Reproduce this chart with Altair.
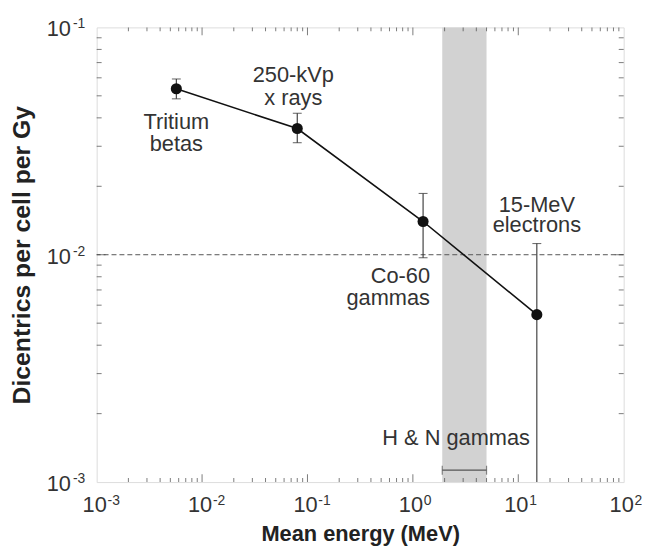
import altair as alt
import pandas as pd

# ---------------- data ----------------
sources = ["Tritium betas", "250-kVp x rays", "Co-60 gammas", "15-MeV electrons"]
label_lines = [["Tritium", "betas"], ["250-kVp", "x rays"], ["Co-60", "gammas"], ["15-MeV", "electrons"]]
energy_mev = [0.0057, 0.08, 1.25, 15.0]
dicentrics = [0.0537, 0.0359, 0.0140, 0.00545]
err_upper = [0.0593, 0.0419, 0.0186, 0.0112]
err_lower = [0.0485, 0.0311, 0.0097, 0.0005]
hn_band = [1.9, 5.0]
hn_label = "H & N gammas"
ref_level = 0.01
x_exponents = [-3, -2, -1, 0, 1, 2]
y_exponents = [-3, -2, -1]
minor_mantissas = [2, 3, 4, 5, 6, 7, 8, 9]

X_DOMAIN = [1e-3, 1e2]
Y_DOMAIN = [1e-3, 1e-1]

FONT = "Liberation Sans"
INK = "#222222"
TXT = "#333333"

xs = alt.Scale(type="log", domain=X_DOMAIN, nice=False)
ys = alt.Scale(type="log", domain=Y_DOMAIN, nice=False)

x_axis = alt.Axis(title="Mean energy (MeV)", labels=False, ticks=False, domain=False, grid=False,
                  titleFont=FONT, titleFontSize=22, titleFontWeight="bold", titleColor=INK,
                  titlePadding=42)
y_axis = alt.Axis(title="Dicentrics per cell per Gy", labels=False, ticks=False, domain=False, grid=False,
                  titleFont=FONT, titleFontSize=25, titleFontWeight="bold", titleColor=INK,
                  titlePadding=63)


def X(field):
    return alt.X(field, type="quantitative", scale=xs, axis=x_axis)


def Y(field):
    return alt.Y(field, type="quantitative", scale=ys, axis=y_axis)


pts = pd.DataFrame({"source": sources, "e": energy_mev, "d": dicentrics,
                    "hi": err_upper, "lo": err_lower})

# shaded H & N band
band = alt.Chart(pd.DataFrame({"lo": [hn_band[0]], "hi": [hn_band[1]],
                               "ylo": [Y_DOMAIN[0]], "yhi": [Y_DOMAIN[1]]})).mark_rect(
    color="#d2d2d2").encode(x=X("lo"), x2="hi", y=Y("ylo"), y2="yhi")

# dashed reference line at 1e-2
ref = alt.Chart(pd.DataFrame({"r": [ref_level]})).mark_rule(
    color="#555555", strokeDash=[5, 3], strokeWidth=1).encode(y=Y("r"))

# bracket under "H & N gammas"
bracket_df = pd.DataFrame({"lo": [hn_band[0]], "hi": [hn_band[1]], "b": [Y_DOMAIN[0]]})
bracket = alt.Chart(bracket_df).mark_rule(color="#555555", strokeWidth=1.2, yOffset=-12).encode(
    x=X("lo"), x2="hi", y=Y("b"))
bracket_ends = alt.Chart(pd.DataFrame({"v": hn_band, "b": [Y_DOMAIN[0]] * 2})).mark_tick(
    orient="vertical", size=9, thickness=1.2, color="#555555", yOffset=-12).encode(x=X("v"), y=Y("b"))


# inward axis ticks on all four sides
def x_ticks(vals, length, at, sign):
    df = pd.DataFrame({"v": vals, "b": [at] * len(vals)})
    return alt.Chart(df).mark_tick(orient="vertical", size=length, thickness=1, color="#444444",
                                   yOffset=sign * length / 2).encode(x=X("v"), y=Y("b"))


def y_ticks(vals, length, at, sign):
    df = pd.DataFrame({"v": vals, "b": [at] * len(vals)})
    return alt.Chart(df).mark_tick(orient="horizontal", size=length, thickness=1, color="#444444",
                                   xOffset=sign * length / 2).encode(y=Y("v"), x=X("b"))


minor_x = [m * 10.0 ** k for k in x_exponents[:-1] for m in minor_mantissas]
major_x = [10.0 ** k for k in x_exponents[1:-1]]
minor_y = [m * 10.0 ** k for k in y_exponents[:-1] for m in minor_mantissas]
major_y = [10.0 ** k for k in y_exponents[1:-1]]

tick_layers = [
    x_ticks(minor_x, 4, Y_DOMAIN[0], -1), x_ticks(major_x, 8, Y_DOMAIN[0], -1),
    x_ticks(minor_x, 4, Y_DOMAIN[1], 1), x_ticks(major_x, 8, Y_DOMAIN[1], 1),
    y_ticks(minor_y, 5, X_DOMAIN[0], 1), y_ticks(major_y, 9, X_DOMAIN[0], 1),
    y_ticks(minor_y, 5, X_DOMAIN[1], -1), y_ticks(major_y, 9, X_DOMAIN[1], -1),
]

# tick labels "10" with superscript exponent
xl_df = pd.DataFrame({"v": [10.0 ** k for k in x_exponents], "exp": [str(k) for k in x_exponents],
                      "b": [Y_DOMAIN[0]] * len(x_exponents)})
yl_df = pd.DataFrame({"v": [10.0 ** k for k in y_exponents], "exp": [str(k) for k in y_exponents],
                      "b": [X_DOMAIN[0]] * len(y_exponents)})

x_base = alt.Chart(xl_df).mark_text(text="10", font=FONT, fontSize=22, color=TXT, align="center",
                                    baseline="alphabetic", dx=-2, dy=30).encode(x=X("v"), y=Y("b"))
x_exp = alt.Chart(xl_df).mark_text(font=FONT, fontSize=14, color=TXT, align="left",
                                   baseline="alphabetic", dx=11, dy=23).encode(
    x=X("v"), y=Y("b"), text="exp:N")
y_base = alt.Chart(yl_df).mark_text(text="10", font=FONT, fontSize=22, color=TXT, align="right",
                                    baseline="alphabetic", dx=-26, dy=9).encode(y=Y("v"), x=X("b"))
y_exp = alt.Chart(yl_df).mark_text(font=FONT, fontSize=14, color=TXT, align="left",
                                   baseline="alphabetic", dx=-24, dy=1).encode(
    y=Y("v"), x=X("b"), text="exp:N")

# error bars
err = alt.Chart(pts).mark_rule(color="#333333", strokeWidth=1.1, clip=True).encode(
    x=X("e"), y=Y("lo"), y2="hi")
caps_df = pd.concat([
    pd.DataFrame({"e": energy_mev, "c": err_upper}),
    pd.DataFrame({"e": energy_mev, "c": err_lower}),
])
caps_df = caps_df[caps_df["c"] >= Y_DOMAIN[0]]
caps = alt.Chart(caps_df).mark_tick(orient="horizontal", size=9, thickness=1.1, color="#333333").encode(
    x=X("e"), y=Y("c"))

line = alt.Chart(pts).mark_line(color="#111111", strokeWidth=1.6).encode(x=X("e"), y=Y("d"))
dots = alt.Chart(pts).mark_circle(size=125, color="#111111", opacity=1).encode(x=X("e"), y=Y("d"))


def point_label(i, dx, dy, align, lh):
    df = pd.DataFrame({"e": [energy_mev[i]], "d": [dicentrics[i]]})
    return alt.Chart(df).mark_text(text=label_lines[i], font=FONT, fontSize=22, color=TXT,
                                   align=align, baseline="alphabetic", dx=dx, dy=dy,
                                   lineHeight=lh).encode(x=X("e"), y=Y("d"))


labels = [
    point_label(0, 0, 41, "center", 22),
    point_label(1, -4, -47, "center", 23),
    point_label(2, 7, 62, "right", 22),
    point_label(3, 0, -104, "center", 21),
]
hn_text = alt.Chart(pd.DataFrame({"v": [hn_band[0]], "b": [Y_DOMAIN[0]]})).mark_text(
    text=hn_label, font=FONT, fontSize=22, color=TXT, align="center", baseline="alphabetic",
    dx=14, dy=-37).encode(x=X("v"), y=Y("b"))

chart = alt.layer(
    band, ref, *tick_layers, bracket, bracket_ends, x_base, x_exp, y_base, y_exp,
    err, caps, line, dots, *labels, hn_text,
).properties(
    width=532, height=459,
    padding={"left": 89.5, "top": 17, "right": 18.5, "bottom": 66},
    autosize=alt.AutoSizeParams(type="none"),
).configure_view(stroke="#333333", strokeWidth=1.3).configure(background="white")

chart.save("out.html", embed_options={"renderer": "svg", "actions": False})
